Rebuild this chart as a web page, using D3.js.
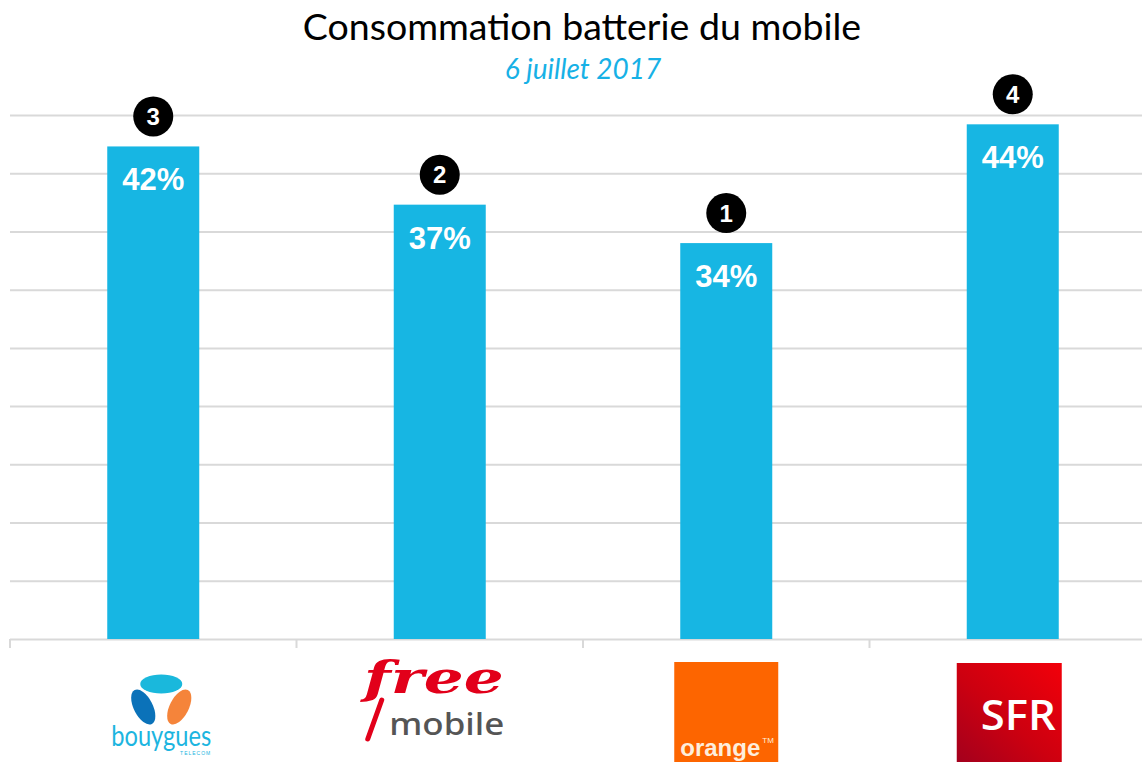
<!DOCTYPE html>
<html>
<head>
<meta charset="utf-8">
<script src="https://cdn.jsdelivr.net/npm/d3@7"></script>
<style>
  body { margin: 0; background: #fff; }
  svg { display: block; }
</style>
</head>
<body>
<div id="viz"></div>
<script>
// data
const operators = ['Bouygues Telecom', 'Free Mobile', 'Orange', 'SFR'];
const consumption = [42.3, 37.3, 34.0, 44.2];
const ranks = [3, 2, 1, 4];
const yTicks = [0, 5, 10, 15, 20, 25, 30, 35, 40, 45];

const titleText = 'Consommation batterie du mobile';
const subtitleText = '6 juillet 2017';

let width = 1142,
    height = 762,
    baseY = 639,
    topY = 115,
    barWidth = 92,
    barColor = '#17b6e3',
    gridColor = '#d9d9d9';

let data = operators.map(function(d, i){
  return {name: d, value: consumption[i], rank: ranks[i]};
});

let xScale = d3.scaleBand()
      .domain(operators)
      .range([10, 1156])
      .padding(0);
let yScale = d3.scaleLinear()
      .domain([0, 45])
      .range([baseY, topY]);

let svg = d3.select('#viz').append('svg')
    .attr('width', width)
    .attr('height', height);

// title
svg.append('text')
    .attr('x', 582).attr('y', 40)
    .attr('text-anchor', 'middle')
    .style('font-family', 'Lato, "Open Sans", sans-serif')
    .style('font-size', '37.5px')
    .style('fill', '#000')
    .text(titleText);
svg.append('text')
    .attr('x', 583).attr('y', 79)
    .attr('text-anchor', 'middle')
    .style('font-family', 'Lato, "Open Sans", sans-serif')
    .style('font-style', 'italic')
    .style('font-size', '28px')
    .style('fill', '#17b1e6')
    .text(subtitleText);

// gridlines
let yGrid = d3.axisLeft(yScale)
      .tickValues(yTicks)
      .tickSize(-(width - 10))
      .tickFormat('');
svg.append('g')
    .attr('transform', 'translate(10,0)')
    .call(yGrid)
    .call(function(g){
      g.select('.domain').remove();
      g.selectAll('.tick line')
        .attr('stroke', gridColor)
        .attr('stroke-width', 2);
    });

// category ticks on the baseline
let bounds = xScale.domain().map(function(d){ return xScale(d); });
bounds.push(xScale.range()[1]);
svg.append('g').selectAll('line').data(bounds)
  .enter().append('line')
    .attr('x1', function(d){ return d; })
    .attr('x2', function(d){ return d; })
    .attr('y1', baseY)
    .attr('y2', baseY + 9)
    .attr('stroke', gridColor)
    .attr('stroke-width', 2);

function cx(d){ return xScale(d.name) + xScale.bandwidth() / 2; }

// bars
svg.append('g').selectAll('rect').data(data)
  .enter().append('rect')
    .attr('x', function(d){ return cx(d) - barWidth / 2; })
    .attr('y', function(d){ return yScale(d.value); })
    .attr('width', barWidth)
    .attr('height', function(d){ return baseY - yScale(d.value); })
    .style('fill', barColor);

// value labels
svg.append('g').selectAll('text').data(data)
  .enter().append('text')
    .attr('x', function(d){ return cx(d); })
    .attr('y', function(d){ return yScale(d.value) + 44; })
    .attr('text-anchor', 'middle')
    .style('font-family', '"Liberation Sans", Arial, sans-serif')
    .style('font-weight', 'bold')
    .style('font-size', '31px')
    .style('fill', '#fff')
    .text(function(d){ return Math.round(d.value) + '%'; });

// rank badges
let badges = svg.append('g').selectAll('g').data(data)
  .enter().append('g')
    .attr('transform', function(d){
      return 'translate(' + cx(d) + ',' + (yScale(d.value) - 30) + ')';
    });
badges.append('circle')
    .attr('r', 20)
    .style('fill', '#000');
badges.append('text')
    .attr('y', 8.5)
    .attr('text-anchor', 'middle')
    .style('font-family', '"Liberation Sans", Arial, sans-serif')
    .style('font-weight', 'bold')
    .style('font-size', '24px')
    .style('fill', '#fff')
    .text(function(d){ return d.rank; });

// logos under each category
let defs = svg.append('defs');
let grad = defs.append('linearGradient')
    .attr('id', 'sfrGrad')
    .attr('x1', '0%').attr('y1', '100%')
    .attr('x2', '100%').attr('y2', '0%');
grad.append('stop').attr('offset', '0%').attr('stop-color', '#a3001d');
grad.append('stop').attr('offset', '45%').attr('stop-color', '#cc0010');
grad.append('stop').attr('offset', '100%').attr('stop-color', '#f2000a');

let logoX = data.map(cx);

// bouygues
let bt = svg.append('g').attr('transform', 'translate(' + (logoX[0] + 8) + ',0)');
bt.append('ellipse')
    .attr('cx', 0).attr('cy', 684).attr('rx', 21).attr('ry', 9.5)
    .style('fill', '#1ab8dc');
bt.append('ellipse')
    .attr('cx', 0).attr('cy', 0).attr('rx', 9.5).attr('ry', 19)
    .attr('transform', 'translate(-18,707) rotate(-27)')
    .style('fill', '#0b72b9');
bt.append('ellipse')
    .attr('cx', 0).attr('cy', 0).attr('rx', 9.5).attr('ry', 19)
    .attr('transform', 'translate(18,707) rotate(27)')
    .style('fill', '#f5843a');
bt.append('text')
    .attr('x', 0).attr('y', 746)
    .attr('text-anchor', 'middle')
    .attr('textLength', 100)
    .attr('lengthAdjust', 'spacingAndGlyphs')
    .style('font-family', 'Lato, sans-serif')
    .style('font-weight', 400)
    .style('font-size', '28px')
    .style('fill', '#1cb5e0')
    .text('bouygues');
bt.append('text')
    .attr('x', 50).attr('y', 755)
    .attr('text-anchor', 'end')
    .style('font-family', '"Liberation Sans", Arial, sans-serif')
    .style('font-size', '5px')
    .style('letter-spacing', '1px')
    .style('fill', '#1cb5e0')
    .text('TELECOM');

// free mobile
let fm = svg.append('g').attr('transform', 'translate(' + (logoX[1] - 6) + ',0)');
fm.append('line')
    .attr('x1', -66).attr('y1', 739)
    .attr('x2', -52).attr('y2', 700)
    .attr('stroke', '#e2001a')
    .attr('stroke-width', 5)
    .attr('stroke-linecap', 'round');
fm.append('text')
    .attr('x', 0).attr('y', 693)
    .attr('text-anchor', 'middle')
    .attr('textLength', 140)
    .attr('lengthAdjust', 'spacingAndGlyphs')
    .style('font-family', '"DejaVu Serif", serif')
    .style('font-weight', 'bold')
    .style('font-style', 'italic')
    .style('font-size', '44px')
    .style('fill', '#e2001a')
    .text('free');
fm.append('text')
    .attr('x', 13).attr('y', 735)
    .attr('text-anchor', 'middle')
    .attr('textLength', 115)
    .attr('lengthAdjust', 'spacingAndGlyphs')
    .style('font-family', '"Noto Sans", sans-serif')
    .style('font-weight', 500)
    .style('font-size', '31px')
    .style('fill', '#555')
    .text('mobile');

// orange
let og = svg.append('g').attr('transform', 'translate(' + logoX[2] + ',0)');
og.append('rect')
    .attr('x', -52).attr('y', 662).attr('width', 104).attr('height', 100)
    .style('fill', '#fd6500');
og.append('text')
    .attr('x', -46).attr('y', 756)
    .attr('textLength', 80)
    .attr('lengthAdjust', 'spacingAndGlyphs')
    .style('font-family', '"Liberation Sans", Arial, sans-serif')
    .style('font-weight', 'bold')
    .style('font-size', '24px')
    .style('fill', '#fdeedc')
    .text('orange');
og.append('text')
    .attr('x', 36).attr('y', 743)
    .style('font-family', '"Liberation Sans", Arial, sans-serif')
    .style('font-size', '8px')
    .style('fill', '#fdeedc')
    .text('TM');

// sfr
let sf = svg.append('g').attr('transform', 'translate(' + logoX[3] + ',0)');
sf.append('rect')
    .attr('x', -56).attr('y', 663).attr('width', 105).attr('height', 99)
    .style('fill', 'url(#sfrGrad)');
sf.append('text')
    .attr('x', -32).attr('y', 730)
    .attr('textLength', 75)
    .attr('lengthAdjust', 'spacingAndGlyphs')
    .style('font-family', '"Open Sans", "Liberation Sans", sans-serif')
    .style('font-weight', 600)
    .style('font-size', '42px')
    .style('fill', '#fff')
    .text('SFR');
</script>
</body>
</html>
